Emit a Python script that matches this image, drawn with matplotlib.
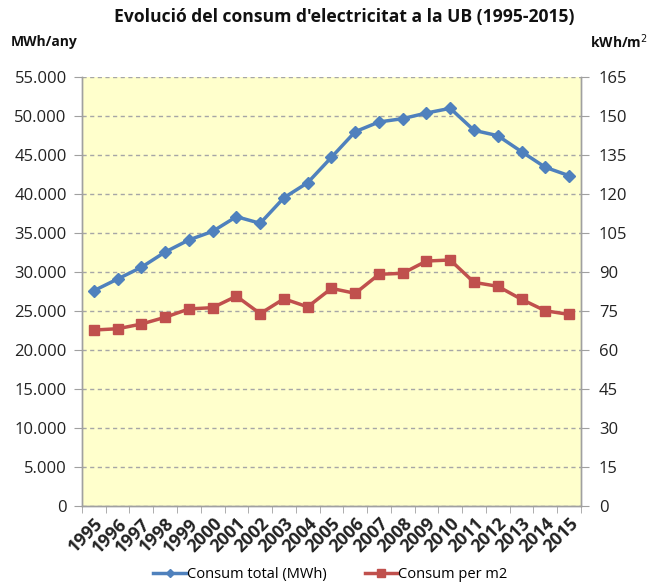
import matplotlib
matplotlib.use("Agg")
import matplotlib.pyplot as plt
from matplotlib.ticker import FuncFormatter, MultipleLocator, FixedLocator
import numpy as np

years = ["1995", "1996", "1997", "1998", "1999", "2000", "2001", "2002", "2003", "2004",
         "2005", "2006", "2007", "2008", "2009", "2010", "2011", "2012", "2013", "2014", "2015"]
consum_total = [27600, 29100, 30600, 32550, 34100, 35200, 37080, 36230, 39500, 41430,
                44680, 47960, 49200, 49630, 50350, 50950, 48130, 47450, 45400, 43400, 42330]
consum_m2 = [67.7, 68.2, 70.0, 72.6, 75.8, 76.3, 80.7, 74.0, 79.7, 76.6,
             83.7, 81.8, 89.1, 89.5, 94.2, 94.6, 86.0, 84.5, 79.5, 75.1, 73.7]

title = "Evolució del consum d'electricitat a la UB (1995-2015)"
left_label = "MWh/any"
right_label = "kWh/m$^2$"
series_names = ["Consum total (MWh)", "Consum per m2"]

plt.rcParams['font.family'] = ['Open Sans', 'DejaVu Sans']

fig = plt.figure(figsize=(6.48, 5.84), dpi=100)
ax = fig.add_axes([0.1265, 0.133, 0.770, 0.7357])
ax2 = ax.twinx()

x = np.arange(len(years))
blue = "#4F81BD"
red = "#C0504D"
ax.set_facecolor("#FFFFCC")

l1, = ax.plot(x, consum_total, color=blue, lw=2.5, marker="D", ms=6.5, zorder=3,
              label=series_names[0])
l2, = ax2.plot(x, consum_m2, color=red, lw=2.5, marker="s", ms=7.5, zorder=3,
               label=series_names[1])

ax.set_xlim(-0.5, len(years) - 0.5)
ax.set_ylim(0, 55000)
ax2.set_ylim(0, 165)
ax.yaxis.set_major_locator(MultipleLocator(5000))
ax2.yaxis.set_major_locator(MultipleLocator(15))
ax.yaxis.set_major_formatter(FuncFormatter(lambda v, p: f"{int(v):,}".replace(",", ".")))

ax.set_xticks(x)
ax.set_xticklabels(years, rotation=45, ha="right", rotation_mode="anchor",
                   fontsize=12.8, fontweight="bold", color="#222222")
ax.tick_params(axis="x", which="major", length=0, pad=6)
ax.xaxis.set_minor_locator(FixedLocator(np.arange(-0.5, len(years), 1.0)))
ax.tick_params(axis="x", which="minor", length=5, color="#A0A0A0")

ax.tick_params(axis="y", labelsize=12, length=6, color="#A0A0A0", labelcolor="#222222", pad=5)
ax2.tick_params(axis="y", labelsize=12, length=6, color="#A0A0A0", labelcolor="#222222", pad=7)

ax.grid(axis="y", color="#A6A6A6", linestyle=(0, (3, 2.5)), lw=1)
ax.set_axisbelow(True)

for a in (ax, ax2):
    a.spines["top"].set_visible(False)
    for s in ("left", "right", "bottom"):
        a.spines[s].set_color("#A0A0A0")
        a.spines[s].set_linewidth(1)

fig.text(0.531, 0.971, title, ha="center", va="center", fontsize=12.6, fontweight="bold",
         color="#111111")
fig.text(0.016, 0.928, left_label, ha="left", va="center", fontsize=10, fontweight="bold",
         color="#111111")
fig.text(0.91, 0.928, right_label, ha="left", va="center", fontsize=10, fontweight="bold",
         color="#111111")

fig.legend(handles=[l1, l2], loc="center", bbox_to_anchor=(0.51, 0.016), ncol=2,
           frameon=False, fontsize=10.5, handlelength=2.2, columnspacing=2.6,
           handletextpad=0.1, markerscale=0.7)

fig.savefig("out.png", dpi=100)
